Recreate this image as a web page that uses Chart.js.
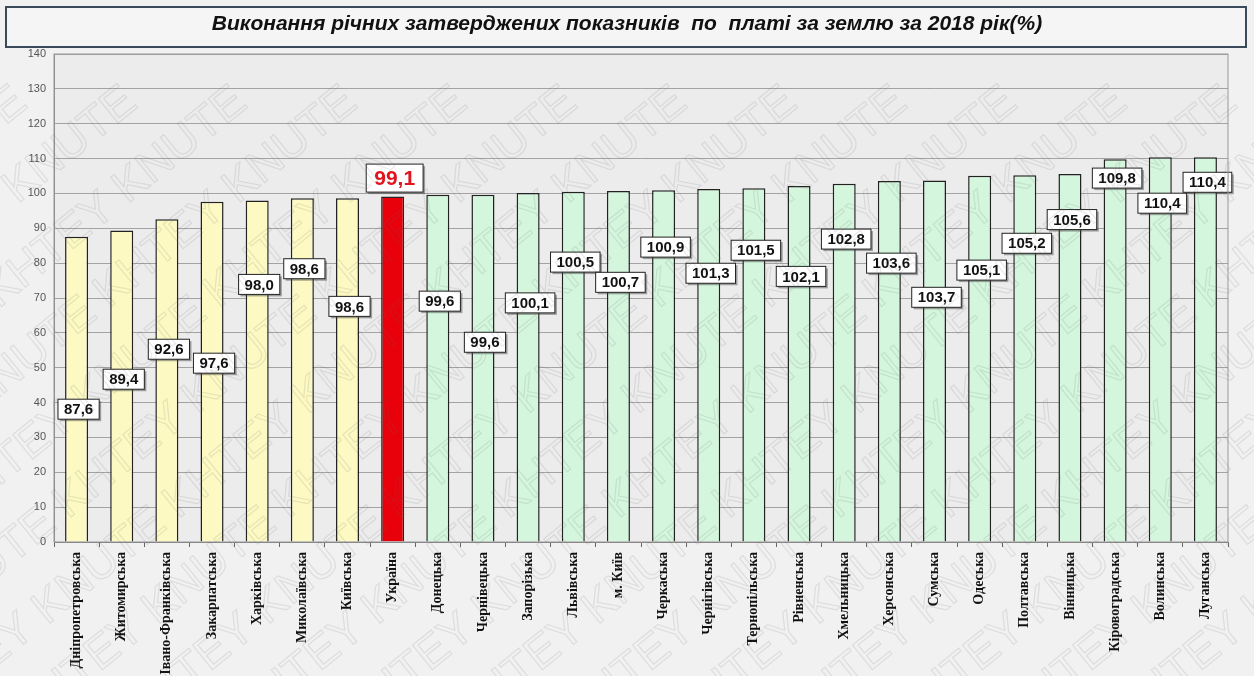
<!DOCTYPE html>
<html>
<head>
<meta charset="utf-8">
<script src="https://cdn.jsdelivr.net/npm/chart.js@4/dist/chart.umd.min.js"></script>
<style>
  body { margin: 0; background: #f1f1f1; }
</style>
</head>
<body>
<canvas id="bar" width="1254" height="676"></canvas>
<script>
var regions = ['Дніпропетровська', 'Житомирська', 'Івано-Франківська', 'Закарпатська', 'Харківська',
    'Миколаївська', 'Київська', 'Україна', 'Донецька', 'Чернівецька', 'Запорізька', 'Львівська',
    'м. Київ', 'Черкаська', 'Чернігівська', 'Тернопільська', 'Рівненська', 'Хмельницька',
    'Херсонська', 'Сумська', 'Одеська', 'Полтавська', 'Вінницька', 'Кіровоградська', 'Волинська', 'Луганська'];
var values = [87.6, 89.4, 92.6, 97.6, 98.0, 98.6, 98.6, 99.1, 99.6, 99.6, 100.1, 100.5, 100.7,
    100.9, 101.3, 101.5, 102.1, 102.8, 103.6, 103.7, 105.1, 105.2, 105.6, 109.8, 110.4, 110.4];
// where each value box sits, in axis units
var labelAt = [38.1, 46.7, 55.3, 51.3, 73.9, 78.4, 67.6, 104.4, 69.1, 57.3, 68.6, 80.3, 74.5,
    84.6, 77.1, 83.7, 76.2, 86.9, 80.0, 70.2, 78.0, 85.7, 92.5, 104.4, 97.2, 103.2];

var title = 'Виконання річних затверджених показників  по  платі за землю за 2018 рік(%)';
var ukIdx = regions.indexOf('Україна');

var barColors = values.map(function (v, i) {
    if (i === ukIdx) return '#e8000b';
    return v < values[ukIdx] ? '#fcf9c2' : '#d3f6dc';
});

function fmt(v) {
    return v.toFixed(1).replace('.', ',');
}

var backdrop = {
    id: 'backdrop',
    beforeDraw: function (chart) {
        var c = chart.ctx, a = chart.chartArea;
        c.save();
        c.fillStyle = '#f1f1f1';
        c.fillRect(0, 0, chart.width, chart.height);
        c.fillStyle = '#ececec';
        c.fillRect(a.left, a.top, a.right - a.left, a.bottom - a.top);
        // title box
        c.fillStyle = '#f5f5f5';
        c.fillRect(6, 7, 1240, 40);
        c.strokeStyle = '#3b4a5a';
        c.lineWidth = 2;
        c.strokeRect(6, 7, 1240, 40);
        c.fillStyle = '#111';
        c.font = 'italic bold 21px Arial, "Liberation Sans"';
        c.textAlign = 'center';
        c.textBaseline = 'middle';
        c.fillText(title, 627, 24);
        c.restore();
    },
    afterDraw: function (chart) {
        var c = chart.ctx, a = chart.chartArea;
        c.save();
        c.strokeStyle = '#999';
        c.lineWidth = 1;
        c.strokeRect(a.left, a.top, a.right - a.left, a.bottom - a.top);
        // watermark
        c.strokeStyle = 'rgba(110,110,110,0.15)';
        c.lineWidth = 1.2;
        c.font = '46px Arial, "Liberation Sans"';
        c.textAlign = 'left';
        c.textBaseline = 'middle';
        for (var k = -10; k < 18; k++) {
            c.save();
            c.translate(k * 110 - 200, 720);
            c.rotate(-0.68);
            c.strokeText('KHTEY KNUTE KHTEY KNUTE KHTEY KNUTE', 0, 0);
            c.restore();
        }
        c.restore();
    }
};

var valueBoxes = {
    id: 'valueBoxes',
    afterDatasetsDraw: function (chart) {
        var c = chart.ctx, y = chart.scales.y;
        var bars = chart.getDatasetMeta(0).data;
        c.save();
        c.textAlign = 'center';
        c.textBaseline = 'middle';
        bars.forEach(function (bar, i) {
            var big = i === ukIdx;
            var txt = fmt(values[i]);
            c.font = big ? 'bold 21px Arial, "Liberation Sans"' : 'bold 15px Arial, "Liberation Sans"';
            var w = c.measureText(txt).width + (big ? 16 : 12);
            var h = big ? 28 : 20;
            var cx = bar.x + 2;
            var cy = y.getPixelForValue(labelAt[i]);
            c.fillStyle = 'rgba(60,60,60,0.45)';
            c.fillRect(cx - w / 2 + 2, cy - h / 2 + 2, w, h);
            c.fillStyle = '#fff';
            c.fillRect(cx - w / 2, cy - h / 2, w, h);
            c.strokeStyle = '#222';
            c.lineWidth = 1;
            c.strokeRect(cx - w / 2, cy - h / 2, w, h);
            c.fillStyle = big ? '#e2141e' : '#111';
            c.fillText(txt, cx, cy + 1);
        });
        c.restore();
    }
};

var ctx = document.getElementById('bar').getContext('2d');
var myChart = new Chart(ctx, {
    type: 'bar',
    data: {
        labels: regions,
        datasets: [{
            data: values,
            backgroundColor: barColors,
            borderColor: '#222',
            borderWidth: 1.5,
            categoryPercentage: 1,
            barPercentage: 0.51
        }]
    },
    options: {
        responsive: false,
        animation: false,
        layout: { padding: { top: 54, right: 26, left: 0, bottom: 0 } },
        plugins: {
            legend: { display: false },
            tooltip: { enabled: false }
        },
        scales: {
            x: {
                grid: { display: true, drawOnChartArea: false, drawTicks: true, tickLength: 5, color: '#666', offset: true },
                border: { color: '#777' },
                ticks: {
                    autoSkip: false,
                    minRotation: 90,
                    maxRotation: 90,
                    color: '#111',
                    padding: 5,
                    font: { family: '"Liberation Serif", "DejaVu Serif", serif', weight: 'bold', size: 14 }
                },
                afterFit: function (scale) { scale.height = 134; }
            },
            y: {
                min: 0,
                max: 140,
                ticks: {
                    stepSize: 10,
                    color: '#555',
                    padding: 8,
                    font: { family: 'Arial, "Liberation Sans"', size: 11 }
                },
                grid: { color: '#a3a3a3', lineWidth: 1, drawTicks: false },
                border: { color: '#888' },
                afterFit: function (scale) { scale.width = 54; }
            }
        }
    },
    plugins: [backdrop, valueBoxes]
});
</script>
</body>
</html>
